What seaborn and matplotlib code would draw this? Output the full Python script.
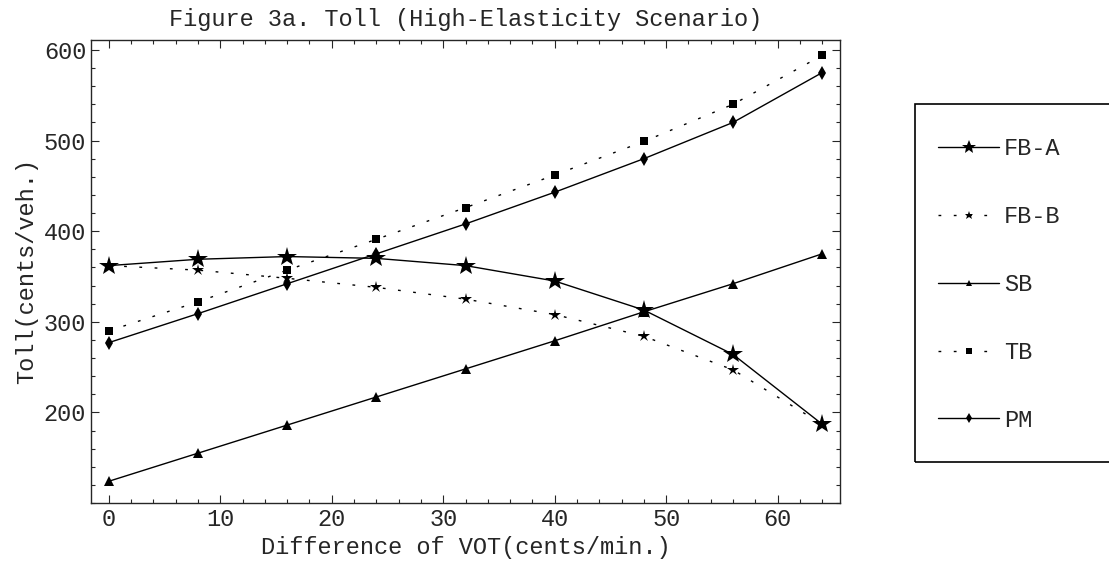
import numpy as np
import pandas as pd
import seaborn as sns
import matplotlib.pyplot as plt
from matplotlib.patches import Rectangle
from matplotlib.ticker import MultipleLocator

# === dane ===
vot = [0, 8, 16, 24, 32, 40, 48, 56, 64]
fb_a = [362, 369, 372, 370, 362, 345, 313, 264, 187]
fb_b = [362, 357, 348, 338, 325, 308, 284, 247, 187]
sb = [124, 155, 186, 217, 248, 279, 311, 342, 375]
tb = [290, 322, 357, 391, 426, 462, 499, 540, 594]
pm = [277, 309, 342, 375, 408, 443, 480, 520, 575]

series_names = ["FB-A", "FB-B", "SB", "TB", "PM"]
series_values = [fb_a, fb_b, sb, tb, pm]

df = pd.concat(
    [pd.DataFrame({"vot": vot, "toll": v, "scheme": n}) for n, v in zip(series_names, series_values)],
    ignore_index=True,
)

# styl każdej serii: marker, rozmiar, linia
dotted = (0, (2, 9))
styles = {
    "FB-A": dict(marker="*", markersize=15, linestyle="-"),
    "FB-B": dict(marker="*", markersize=9, linestyle=dotted),
    "SB": dict(marker="^", markersize=7, linestyle="-"),
    "TB": dict(marker="s", markersize=5.5, linestyle=dotted),
    "PM": dict(marker="d", markersize=7, linestyle="-"),
}

sns.set_style("ticks")
plt.rcParams["font.family"] = ["Liberation Mono", "DejaVu Sans Mono"]
FS = 17

fig = plt.figure(figsize=(11.09, 5.65), dpi=100)
ax = fig.add_axes([91 / 1109, 1 - 503 / 565, (840 - 91) / 1109, (503 - 40) / 565])

for name in series_names:
    sns.lineplot(
        data=df[df["scheme"] == name], x="vot", y="toll", ax=ax,
        color="black", linewidth=1, markeredgewidth=0, label=name,
        **styles[name],
    )

ax.set_xlim(-1.6, 65.6)
ax.set_ylim(100, 611)
ax.xaxis.set_major_locator(MultipleLocator(10))
ax.xaxis.set_minor_locator(MultipleLocator(2))
ax.yaxis.set_major_locator(MultipleLocator(100))
ax.yaxis.set_minor_locator(MultipleLocator(20))
ax.set_yticks([200, 300, 400, 500, 600])
ax.tick_params(which="both", direction="in", top=True, right=True, labelsize=FS, width=0.8)
ax.tick_params(which="major", length=6)
ax.tick_params(which="minor", length=3)
for s in ax.spines.values():
    s.set_linewidth(1)

ax.set_title("Figure 3a. Toll (High-Elasticity Scenario)", fontsize=FS, pad=10)
ax.set_xlabel("Difference of VOT(cents/min.)", fontsize=FS, labelpad=4)
ax.set_ylabel("Toll(cents/veh.)", fontsize=FS, labelpad=4)

# legenda w ramce po prawej (ramka wychodzi poza prawą krawędź)
leg = ax.legend(
    loc="center left", bbox_to_anchor=(926 / 1109, 1 - 284.5 / 565),
    bbox_transform=fig.transFigure, frameon=False, fontsize=FS,
    handlelength=2.6, handletextpad=0.2, labelspacing=1.9, borderpad=0,
    numpoints=1, markerscale=0.7,
)
fig.patches.append(Rectangle(
    (915 / 1109, 1 - 462 / 565), 0.3, (462 - 104) / 565,
    transform=fig.transFigure, fill=False, edgecolor="black", linewidth=1.2,
))

fig.savefig("out.png", dpi=100)
